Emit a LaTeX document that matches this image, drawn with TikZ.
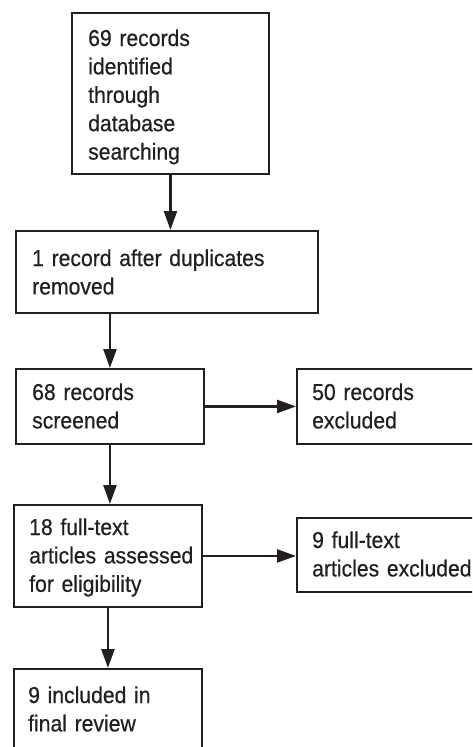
\documentclass[tikz,border=0pt]{standalone}
\usepackage{fontspec}
\setmainfont{Liberation Sans}[FakeStretch=0.92,FakeBold=0.5]
\usetikzlibrary{arrows.meta}
\definecolor{ink}{HTML}{231F20}
\begin{document}
\begin{tikzpicture}[x=1pt,y=-1pt,
  box/.style={draw=ink, line width=1.9pt, rectangle, inner sep=0pt, anchor=north west},
  txt/.style={text=ink, anchor=base west, inner sep=0pt, text width=400pt, align=left,
    font=\fontsize{23}{28.4}\selectfont},
  arr/.style={draw=ink, line width=2.4pt, -{Triangle[length=19pt,width=13pt]}}]
\useasboundingbox (0,0) rectangle (472,747);
\clip (0,0) rectangle (472,747);
\fill[white] (0,0) rectangle (472,747);
\node[box, minimum width=197pt, minimum height=161pt] (b1) at (71,12) {};
\node[box, minimum width=302pt, minimum height=82pt] (b2) at (15,230) {};
\node[box, minimum width=188pt, minimum height=75pt] (b3) at (15,368) {};
\node[box, minimum width=190pt, minimum height=75pt] (b4) at (296,368) {};
\node[box, minimum width=188pt, minimum height=102pt] (b5) at (13,504) {};
\node[box, minimum width=190pt, minimum height=74pt] (b6) at (296,517) {};
\node[box, minimum width=188pt, minimum height=100pt] (b7) at (13,668) {};
\node[txt] (t1) at (88,46) {69 records\\identified\\through\\database\\searching};
\node[txt] (t2) at (32,266) {1 record after duplicates\\removed};
\node[txt] (t3) at (32,400) {68 records\\screened};
\node[txt] (t4) at (312,400) {50 records\\excluded};
\node[txt] (t5) at (29,535) {18 full-text\\articles assessed\\for eligibility};
\node[txt] (t6) at (312,548) {9 full-text\\articles excluded};
\node[txt] (t7) at (28,703) {9 included in\\final review};
\draw[arr] (b1.south) -- (b1.south |- b2.north);
\draw[arr] (b3.north |- b2.south) -- (b3.north);
\draw[arr] (b3.east) -- (b4.west);
\draw[arr] (b3.south) -- (b3.south |- b5.north);
\draw[arr] (b5.east) -- (b5.east -| b6.west);
\draw[arr] (b5.south) -- (b5.south |- b7.north);
\end{tikzpicture}
\end{document}
